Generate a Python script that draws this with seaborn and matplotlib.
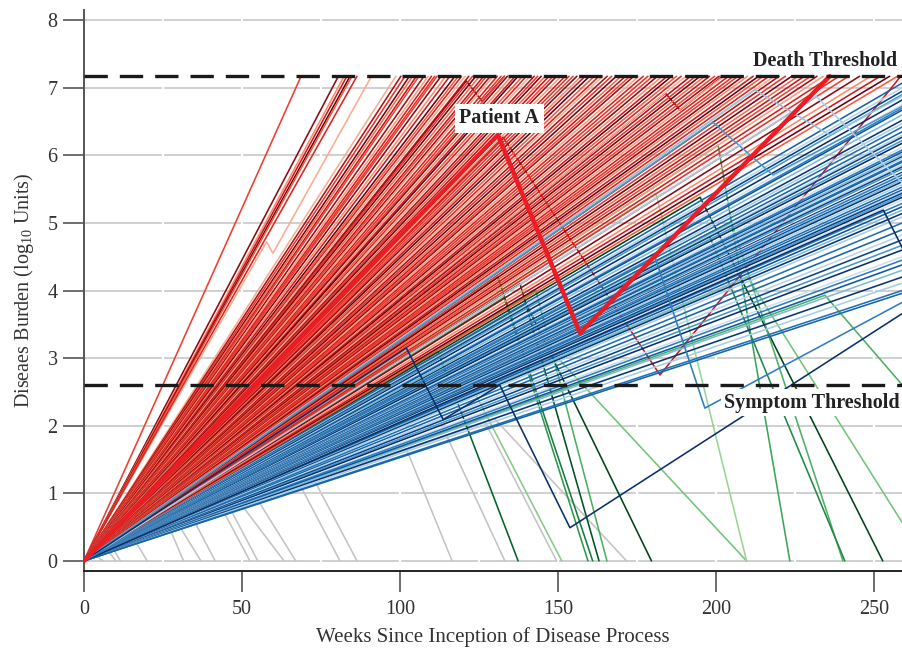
import matplotlib
matplotlib.use("Agg")
import matplotlib.pyplot as plt
import pandas as pd
import seaborn as sns

# ---------------- data ----------------
DEATH_THRESHOLD = 7.17
SYMPTOM_THRESHOLD = 2.6
STUDY_END_WEEK = 259

# untreated patients who progress to death: week the death threshold is hit
RED_DEATH_WEEK = [68.7, 80.5, 82.3, 83.2, 84.2, 84.8, 86.4,
                  98.7, 100.3, 101.6, 103.0, 104.0, 105.2, 106.0, 107.6, 108.9, 110.0,
                  111.0, 111.7, 113.0, 114.5, 115.8, 117.4, 118.5, 119.5,
                  120.6, 121.8, 123.0, 124.0, 125.2, 126.5, 127.4, 128.6, 129.5, 130.8,
                  132.0, 133.1, 134.0, 135.3, 136.5, 137.4, 138.8, 140.0, 141.2, 142.5,
                  143.6, 144.7, 146.0, 147.2, 148.5, 149.6, 151.0, 152.3, 153.5, 154.8,
                  156.0, 157.4, 158.6, 160.0, 161.5, 163.0, 164.2, 165.6, 167.0, 168.5,
                  170.0, 171.4, 172.8, 174.0, 175.6, 177.0, 178.5, 180.0, 181.5, 183.0,
                  184.6, 186.0, 187.5, 189.0, 190.5, 192.0, 193.6, 195.0, 196.5, 198.0,
                  199.6, 201.0, 202.5, 204.0, 205.6, 207.0, 208.6, 210.0, 211.8, 213.5,
                  215.0, 216.8, 218.5, 220.0, 222.0, 224.0, 226.0, 228.0, 230.0, 232.0,
                  234.0, 236.5, 239.0, 242.0, 245.5, 249.0, 252.0, 255.0, 257.5]
RED_SHADES = [0.62, 0.92, 0.4, 0.75, 1.0, 0.55, 0.7, 0.3, 0.85, 0.65,
              0.97, 0.5, 0.78, 0.6, 0.88, 0.35, 0.72, 0.66]

# patients still alive at the study end: burden at the last week
BLUE_END_BURDEN = [7.07, 7.0, 6.95, 6.9, 6.82, 6.75, 6.7, 6.67, 6.6, 6.52,
                   6.47, 6.42, 6.35, 6.3, 6.27, 6.22, 6.18, 6.12, 6.08, 6.05,
                   6.01, 5.98, 5.96, 5.92, 5.9, 5.86, 5.83, 5.8, 5.75, 5.73,
                   5.71, 5.67, 5.64, 5.61, 5.57, 5.53, 5.49, 5.46, 5.44, 5.41,
                   5.38, 5.34, 5.29, 5.24, 5.19, 5.14, 5.09, 5.0, 4.9, 4.82,
                   4.75, 4.67, 4.6, 4.5, 4.45, 4.38, 4.3, 4.2, 4.11, 4.0, 3.96]
BLUE_SHADES = [0.8, 0.3, 0.92, 0.6, 1.0, 0.22, 0.7, 0.85, 0.45, 0.97, 0.35, 0.75]

# patients cured by treatment: peak then clearance
GREEN_PEAK_WEEK = [112, 118, 133, 131, 138, 143, 140, 150, 181, 200.7, 195, 205, 198, 210]
GREEN_PEAK_BURDEN = [3.1, 3.0, 3.9, 4.2, 4.1, 4.0, 3.8, 3.0, 5.44, 6.15, 5.38, 5.0, 4.8, 4.2]
GREEN_CLEAR_WEEK = [137.4, 151.2, 159.5, 161.0, 163.0, 165.5, 179.6, 209.7, 209.7,
                    223.4, 252.8, 240.2, 240.8, 266.6]
GREEN_SHADES = [0.9, 0.45, 0.7, 0.8, 0.95, 0.6, 1.0, 0.5, 0.4, 0.65, 1.0, 0.6, 0.75, 0.5]

GREEN_TX_WEEK = [0, 215, 234.5, 307]
GREEN_TX_BURDEN = [0, 3.6, 3.93, 0]

# spontaneous clearance
GREY_PEAK_WEEK = [4, 8, 9.5, 16.4, 27.4, 30.4, 35, 44.3, 46.4, 50, 55, 68.4, 72.8, 102, 114.7, 127, 130]
GREY_PEAK_BURDEN = [0.07, 0.13, 0.16, 0.28, 0.45, 0.5, 0.58, 0.72, 0.76, 0.82, 0.9,
                    1.12, 1.2, 1.66, 1.86, 2.05, 2.1]
GREY_CLEAR_WEEK = [6, 10, 11.5, 20, 31.5, 37, 41.5, 52.5, 55, 63.3, 67, 81, 86.4,
                   116.5, 133.2, 149.6, 171.7]

# treated patients that still progressed (red) or persisted (blue)
RED_TX1_WEEK = [0, 184, 188.6, 202]
RED_TX1_BURDEN = [0, 6.92, 6.67, 7.17]
RED_TX2_WEEK = [0, 132.6, 182.3, 258.5]
RED_TX2_BURDEN = [0, 6.27, 2.75, 7.17]
RED_TX3_WEEK = [0, 121, 126, 133]
RED_TX3_BURDEN = [0, 7.1, 6.8, 7.17]
RED_TX4_WEEK = [0, 57.8, 59.8, 91]
RED_TX4_BURDEN = [0, 4.72, 4.55, 7.17]

BLUE_TX1_WEEK = [0, 212.3, 236, 262]
BLUE_TX1_BURDEN = [0, 6.97, 6.3, 6.95]
BLUE_TX2_WEEK = [0, 199, 218, 262]
BLUE_TX2_BURDEN = [0, 6.49, 5.71, 6.8]
BLUE_TX3_WEEK = [0, 231.8, 262]
BLUE_TX3_BURDEN = [0, 6.87, 5.45]
BLUE_TX4_WEEK = [0, 253, 262]
BLUE_TX4_BURDEN = [0, 5.19, 4.35]
BLUE_TX5_WEEK = [0, 102, 113.7, 131.6, 153.8, 262]
BLUE_TX5_BURDEN = [0, 3.15, 2.09, 2.6, 0.49, 3.75]
BLUE_TX6_WEEK = [0, 180.7, 196.5, 262]
BLUE_TX6_BURDEN = [0, 4.5, 2.26, 3.9]

PATIENT_A_WEEK = [0, 131, 157, 236]
PATIENT_A_BURDEN = [0, 6.3, 3.37, 7.17]

X_TICKS = [0, 50, 100, 150, 200, 250]
Y_TICKS = [0, 1, 2, 3, 4, 5, 6, 7, 8]

# ---------------- style ----------------
sns.set_theme(style="white")
plt.rcParams["font.family"] = ["Liberation Serif", "DejaVu Serif"]
plt.rcParams["mathtext.fontset"] = "custom"
plt.rcParams["mathtext.rm"] = "Liberation Serif"
plt.rcParams["mathtext.default"] = "regular"

fig = plt.figure(figsize=(9.02, 6.5), dpi=100)
ax = fig.add_axes([84 / 902, 1 - 571 / 650, 818 / 902, 561 / 650])

LW = 1.15


def draw(rows, palette, lw=LW, zorder=2):
    df = pd.DataFrame(rows, columns=["pid", "week", "burden"])
    sns.lineplot(data=df, x="week", y="burden", hue="pid", palette=palette,
                 hue_order=list(palette.keys()), estimator=None, sort=False,
                 legend=False, linewidth=lw, ax=ax, zorder=zorder)


# grey
rows, pal = [], {}
for i, (tp, yp, te) in enumerate(zip(GREY_PEAK_WEEK, GREY_PEAK_BURDEN, GREY_CLEAR_WEEK)):
    k = f"g{i}"
    rows += [(k, 0, 0), (k, tp, yp), (k, te, 0)]
    pal[k] = "#c4c4c4"
draw(rows, pal)

# green
rows, pal = [], {}
for i, (tp, yp, te) in enumerate(zip(GREEN_PEAK_WEEK, GREEN_PEAK_BURDEN, GREEN_CLEAR_WEEK)):
    k = f"c{i}"
    rows += [(k, 0, 0), (k, tp, yp), (k, te, 0)]
    pal[k] = plt.cm.Greens(GREEN_SHADES[i])
rows += [("ctx", w, b) for w, b in zip(GREEN_TX_WEEK, GREEN_TX_BURDEN)]
pal["ctx"] = plt.cm.Greens(0.6)
draw(rows, pal)

# red treated (under the others)
rows, pal = [], {}
for k, ws, bs, c in [("rt1", RED_TX1_WEEK, RED_TX1_BURDEN, 0.85),
                     ("rt2", RED_TX2_WEEK, RED_TX2_BURDEN, 0.75),
                     ("rt3", RED_TX3_WEEK, RED_TX3_BURDEN, 0.9),
                     ("rt4", RED_TX4_WEEK, RED_TX4_BURDEN, 0.3)]:
    rows += [(k, w, b) for w, b in zip(ws, bs)]
    pal[k] = plt.cm.Reds(c)
draw(rows, pal)

# red
rows, pal = [], {}
for i, t in enumerate(RED_DEATH_WEEK):
    k = f"r{i}"
    rows += [(k, 0, 0), (k, t, DEATH_THRESHOLD)]
    pal[k] = plt.cm.Reds(RED_SHADES[i % len(RED_SHADES)])
draw(rows, pal)

# blue
rows, pal = [], {}
for i, yb in enumerate(BLUE_END_BURDEN):
    k = f"b{i}"
    rows += [(k, 0, 0), (k, STUDY_END_WEEK, yb)]
    pal[k] = plt.cm.Blues(BLUE_SHADES[i % len(BLUE_SHADES)])
draw(rows, pal)

rows, pal = [], {}
for k, ws, bs, c in [("bt1", BLUE_TX1_WEEK, BLUE_TX1_BURDEN, 0.4),
                     ("bt2", BLUE_TX2_WEEK, BLUE_TX2_BURDEN, 0.6),
                     ("bt3", BLUE_TX3_WEEK, BLUE_TX3_BURDEN, 0.35),
                     ("bt4", BLUE_TX4_WEEK, BLUE_TX4_BURDEN, 1.0),
                     ("bt5", BLUE_TX5_WEEK, BLUE_TX5_BURDEN, 1.0),
                     ("bt6", BLUE_TX6_WEEK, BLUE_TX6_BURDEN, 0.7)]:
    rows += [(k, w, b) for w, b in zip(ws, bs)]
    pal[k] = plt.cm.Blues(c)
draw(rows, pal)

# patient A
dfa = pd.DataFrame({"week": PATIENT_A_WEEK, "burden": PATIENT_A_BURDEN})
sns.lineplot(data=dfa, x="week", y="burden", estimator=None, sort=False,
             color="#ec1c24", linewidth=3.2, ax=ax, zorder=5)

# thresholds
for yv in (DEATH_THRESHOLD, SYMPTOM_THRESHOLD):
    ax.axhline(yv, color="#1a1a1a", linewidth=2.4, dashes=(7, 3.6), zorder=6)

ax.text(257.5, 7.32, "Death Threshold", ha="right", va="baseline", fontsize=14.5,
        fontweight="bold", color="#222222", zorder=7)
ax.text(131.5, 6.55, "Patient A", ha="center", va="center", fontsize=14.5,
        fontweight="bold", color="#222222", zorder=7,
        bbox=dict(boxstyle="square,pad=0.22", fc="white", ec="none"))
ax.text(258.3, 2.34, "Symptom Threshold", ha="right", va="center", fontsize=14.5,
        fontweight="bold", color="#222222", zorder=7,
        bbox=dict(boxstyle="square,pad=0.18", fc="white", ec="none"))

# axes
ax.set_xlim(0, 258.9)
ax.set_ylim(-0.15, 8.15)
ax.set_xticks(X_TICKS)
ax.set_yticks(Y_TICKS)
ax.set_axisbelow(True)
ax.grid(axis="y", color="#cfcfcf", linewidth=1.4)
ax.grid(axis="x", visible=False)
ax.vlines(range(25, 259, 25), -0.15, 8.15, colors="white", linewidth=1.6, zorder=1)

for s in ("top", "right"):
    ax.spines[s].set_visible(False)
ax.spines["left"].set_color("#555555")
ax.spines["left"].set_linewidth(1.4)
ax.spines["bottom"].set_color("#222222")
ax.spines["bottom"].set_linewidth(1.4)

ax.tick_params(axis="both", bottom=True, left=True, length=15, width=1.2,
               color="#555555", labelsize=14.5, labelcolor="#333333", direction="out")
ax.tick_params(axis="x", pad=6)
ax.tick_params(axis="y", pad=4)

ax.set_xlabel("Weeks Since Inception of Disease Process", fontsize=15,
              color="#333333", labelpad=6)
ax.set_ylabel("Diseaes Burden (log$_{10}$ Units)", fontsize=14.5,
              color="#333333", labelpad=8)

fig.savefig("out.png", dpi=100)
